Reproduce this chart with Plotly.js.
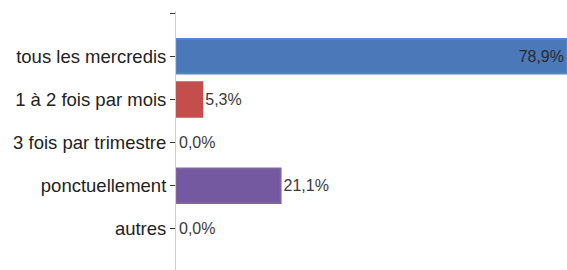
<!DOCTYPE html>
<html>
<head>
<meta charset="utf-8">
<script src="https://cdn.plot.ly/plotly-3.0.1.min.js"></script>
<style>html,body{margin:0;padding:0;background:#fff;}#chart{width:567px;height:270px;}</style>
</head>
<body>
<div id="chart"></div>
<script>
var categories = ["tous les mercredis", "1 à 2 fois par mois", "3 fois par trimestre", "ponctuellement", "autres"];
var values = [78.9, 5.3, 0.0, 21.1, 0.0];
var barColors = ["#4a78b8", "#c44e4b", "#7559a0"];
var lineColors = ["#5585c4", "#c0504d", "#8064a2"];

var positions = categories.map(function (c, i) { return i + 1; });
var tickVals = [0].concat(positions);
var tickText = [""].concat(categories);
var labels = values.map(function (v) { return v.toFixed(1).replace('.', ',') + '%'; });
var fills = [barColors[0], barColors[1], barColors[0], barColors[2], barColors[0]];
var lines = [lineColors[0], lineColors[1], lineColors[0], lineColors[2], lineColors[0]];
var lineWidths = values.map(function (v) { return v > 0 ? 2 : 0; });
var textPos = values.map(function (v) { return v > 50 ? 'inside' : 'outside'; });

var trace = {
  type: 'bar',
  orientation: 'h',
  x: values,
  y: positions,
  width: 0.8,
  text: labels,
  textposition: textPos,
  insidetextanchor: 'end',
  textfont: {family: 'Liberation Sans, Arial, sans-serif', size: 16, color: '#3a3a3a'},
  insidetextfont: {family: 'Liberation Sans, Arial, sans-serif', size: 16, color: '#2a2a2a'},
  outsidetextfont: {family: 'Liberation Sans, Arial, sans-serif', size: 16, color: '#3a3a3a'},
  marker: {color: fills, line: {color: lines, width: lineWidths}},
  cliponaxis: false,
  hoverinfo: 'none'
};

var layout = {
  width: 567,
  height: 270,
  margin: {l: 176, r: 0, t: 11, b: 0, pad: 0},
  paper_bgcolor: '#ffffff',
  plot_bgcolor: '#ffffff',
  showlegend: false,
  font: {family: 'Liberation Sans, Arial, sans-serif', color: '#222'},
  xaxis: {range: [0, 78.9], visible: false, fixedrange: true},
  yaxis: {
    range: [5.95, -0.05],
    tickmode: 'array',
    tickvals: tickVals,
    ticktext: tickText,
    ticks: 'outside',
    ticklen: 5,
    tickwidth: 1,
    tickcolor: '#333',
    showline: true,
    linecolor: '#cfcfcf',
    linewidth: 1,
    showgrid: false,
    zeroline: false,
    tickfont: {family: 'Liberation Sans, Arial, sans-serif', size: 18.5, color: '#222'},
    fixedrange: true
  }
};

Plotly.newPlot('chart', [trace], layout, {displayModeBar: false, staticPlot: true});
</script>
</body>
</html>
